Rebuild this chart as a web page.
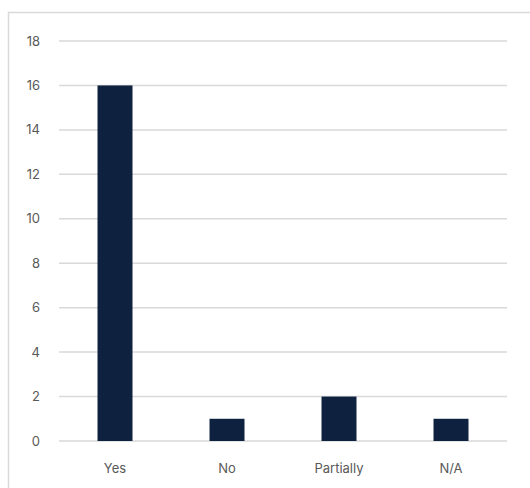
<!DOCTYPE html>
<html>
<head>
<meta charset="utf-8">
<script src="https://cdn.jsdelivr.net/npm/d3@7"></script>
<style>
  html, body { margin: 0; background: #fff; overflow: hidden; }
  svg { display: block; }
</style>
</head>
<body>
<div class="chart"></div>
<script>
const categories = ['Yes', 'No', 'Partially', 'N/A'];
const counts = [16, 1, 2, 1];
const yTicks = [0, 2, 4, 6, 8, 10, 12, 14, 16, 18];

const width = 530;
const height = 488;
const margin = { top: 41, right: 23, bottom: 47, left: 59 };

const svg = d3
  .select('.chart')
  .append('svg')
  .attr('width', width)
  .attr('height', height);

// chart frame: only top and left edges fall inside the window
svg
  .append('path')
  .attr('d', `M8.5,${height} V12.5 H${width}`)
  .attr('fill', 'none')
  .attr('stroke', '#d9d9d9')
  .attr('stroke-width', 1.5);

const x = d3
  .scaleBand()
  .domain(categories)
  .range([margin.left, width - margin.right])
  .paddingInner(0.6875)
  .paddingOuter(0.34375);

const y = d3
  .scaleLinear()
  .domain([0, 18])
  .range([height - margin.bottom, margin.top]);

// gridlines
svg
  .append('g')
  .selectAll('line')
  .data(yTicks)
  .enter()
  .append('line')
  .attr('x1', margin.left)
  .attr('x2', width - margin.right)
  .attr('y1', (d) => y(d))
  .attr('y2', (d) => y(d))
  .attr('stroke', '#d9d9d9')
  .attr('stroke-width', 1.5);

// y labels
svg
  .append('g')
  .selectAll('text')
  .data(yTicks)
  .enter()
  .append('text')
  .attr('x', 40)
  .attr('y', (d) => y(d))
  .attr('dy', '0.35em')
  .attr('text-anchor', 'end')
  .attr('font-family', 'Inter, "Open Sans", sans-serif')
  .attr('font-size', '13px')
  .attr('fill', '#595959')
  .text((d) => d);

// bars
svg
  .append('g')
  .selectAll('rect')
  .data(categories)
  .enter()
  .append('rect')
  .attr('x', (d) => x(d))
  .attr('y', (d, i) => y(counts[i]))
  .attr('width', x.bandwidth())
  .attr('height', (d, i) => y(0) - y(counts[i]))
  .attr('fill', '#0e2240');

// x labels
svg
  .append('g')
  .selectAll('text')
  .data(categories)
  .enter()
  .append('text')
  .attr('x', (d) => x(d) + x.bandwidth() / 2)
  .attr('y', 473)
  .attr('text-anchor', 'middle')
  .attr('font-family', 'Inter, "Open Sans", sans-serif')
  .attr('font-size', '13px')
  .attr('fill', '#595959')
  .text((d) => d);
</script>
</body>
</html>
